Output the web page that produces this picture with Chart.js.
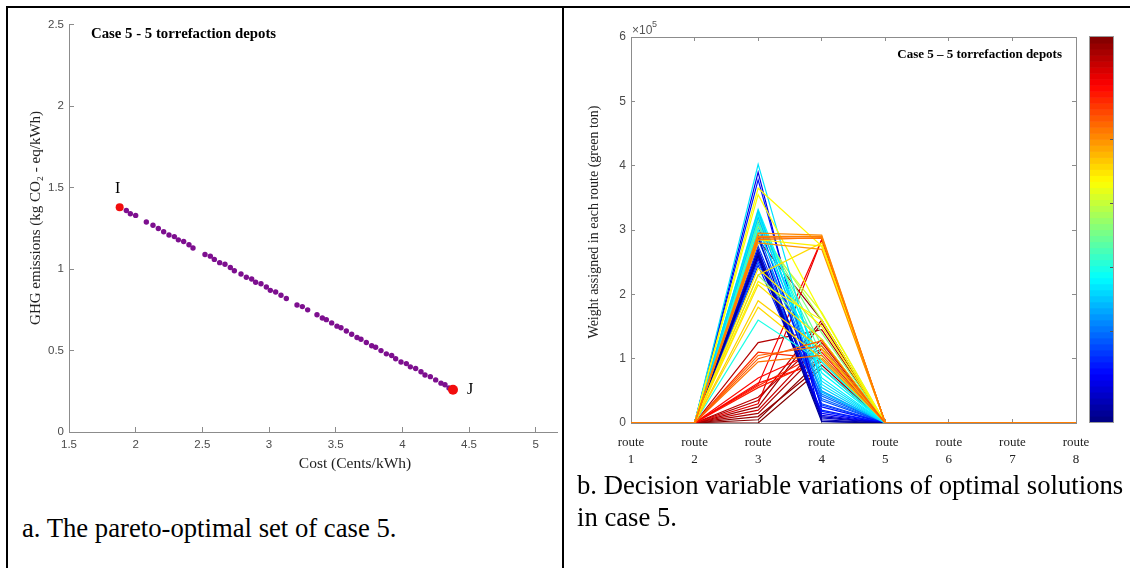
<!DOCTYPE html>
<html>
<head>
<meta charset="utf-8">
<script src="https://cdn.jsdelivr.net/npm/chart.js@4.4.1/dist/chart.umd.min.js"></script>
<style>
  html, body { margin: 0; padding: 0; background: #fff; }
  #page { position: relative; width: 1130px; height: 568px; overflow: hidden; background: #fff; }
  .rule { position: absolute; background: #000; }
  canvas { position: absolute; }
  .caption {
    position: absolute;
    font-family: 'Liberation Serif', 'Times New Roman', serif;
    font-size: 26.7px;
    line-height: 32px;
    color: #000;
    white-space: nowrap;
  }
</style>
</head>
<body>
<div id="page">
  <div class="rule" style="left:6px;top:6px;width:1124px;height:2px"></div>
  <div class="rule" style="left:6px;top:6px;width:2px;height:562px"></div>
  <div class="rule" style="left:562px;top:6px;width:2px;height:562px"></div>
  <canvas id="pareto" width="554" height="480" style="left:8px;top:8px"></canvas>
  <canvas id="routes" width="566" height="480" style="left:564px;top:8px"></canvas>
  <div class="caption" style="left:22px;top:512px">a. The pareto-optimal set of case 5.</div>
  <div class="caption" style="left:577px;top:469px">b. Decision variable variations of optimal solutions<br>in case 5.</div>
</div>
<script>
// ---- pareto set (left panel) ----
const costValues = [1.93, 1.96, 2.00, 2.08, 2.13, 2.17, 2.21, 2.25, 2.29, 2.32, 2.36, 2.40, 2.43, 2.52, 2.56,
  2.59, 2.63, 2.67, 2.71, 2.74, 2.79, 2.83, 2.87, 2.90, 2.94, 2.98, 3.01, 3.05, 3.09, 3.13, 3.21, 3.25, 3.29,
  3.36, 3.40, 3.43, 3.47, 3.51, 3.54, 3.58, 3.62, 3.66, 3.69, 3.73, 3.77, 3.80, 3.84, 3.88, 3.92, 3.95, 3.99,
  4.03, 4.06, 4.10, 4.14, 4.17, 4.21, 4.25, 4.29, 4.32, 4.35];
const ghgValues = [1.36, 1.34, 1.33, 1.29, 1.27, 1.25, 1.23, 1.21, 1.20, 1.18, 1.17, 1.15, 1.13, 1.09, 1.08,
  1.06, 1.04, 1.03, 1.01, 0.99, 0.97, 0.95, 0.94, 0.92, 0.91, 0.89, 0.87, 0.86, 0.84, 0.82, 0.78, 0.77, 0.75,
  0.72, 0.70, 0.69, 0.67, 0.65, 0.64, 0.62, 0.60, 0.58, 0.57, 0.55, 0.53, 0.52, 0.50, 0.48, 0.47, 0.45, 0.43,
  0.42, 0.40, 0.39, 0.37, 0.35, 0.34, 0.32, 0.30, 0.29, 0.27];
const extremeCost = [1.88, 4.38];
const extremeGhg = [1.38, 0.26];
const extremeNames = ['I', 'J'];
const costTicks = [1.5, 2, 2.5, 3, 3.5, 4, 4.5, 5];
const ghgTicks = [0, 0.5, 1, 1.5, 2, 2.5];

// ---- route weights (right panel) ----
const routeLabels = [['route', '1'], ['route', '2'], ['route', '3'], ['route', '4'],
  ['route', '5'], ['route', '6'], ['route', '7'], ['route', '8']];
// groups: orange/yellow, cyan/green, blue, red, dark red
const route3Weight = [290000, 285000, 295000, 288000, 280000, 105000, 100000, 95000, 365000, 355000, 240000,
  230000, 215000, 190000, 285000, 180000, 220000,
  402000, 330000, 325000, 332000, 320000, 310000, 160000, 328000, 300000,
  320000, 310000, 305000, 295000, 230000, 315000,
  260000, 265000, 270000, 255000, 262000, 290000, 390000, 378000, 313000, 275000, 258000, 250000, 305000,
  285000, 245000, 268000, 295000,
  60000, 55000, 62000, 58000, 30000, 70000, 110000,
  35000, 25000, 15000, 10000, 5000, 0, 40000, 125000, 285000, 20000];
const route4Weight = [290000, 288000, 292000, 287000, 270000, 120000, 128000, 105000, 275000, 170000, 150000,
  280000, 130000, 115000, 275000, 100000, 160000,
  60000, 55000, 70000, 85000, 48000, 95000, 95000, 65000, 78000,
  105000, 140000, 160000, 172000, 130000, 120000,
  2000, 5000, 8000, 12000, 15000, 10000, 3000, 20000, 25000, 30000, 35000, 42000, 45000,
  50000, 18000, 28000, 38000,
  285000, 100000, 95000, 110000, 285000, 115000, 100000,
  160000, 155000, 115000, 90000, 100000, 85000, 130000, 145000, 160000, 125000];
const solutionLevel = [0.75, 0.76, 0.74, 0.77, 0.73, 0.78, 0.79, 0.76, 0.63, 0.62, 0.64,
  0.66, 0.65, 0.67, 0.64, 0.66, 0.63,
  0.35, 0.33, 0.36, 0.38, 0.31, 0.40, 0.40, 0.34, 0.37,
  0.45, 0.50, 0.55, 0.58, 0.52, 0.48,
  0.02, 0.05, 0.08, 0.10, 0.12, 0.06, 0.10, 0.15, 0.14, 0.18, 0.20, 0.22, 0.25,
  0.27, 0.16, 0.19, 0.23,
  0.88, 0.85, 0.86, 0.84, 0.90, 0.87, 0.83,
  0.95, 0.97, 0.96, 0.98, 0.99, 1.00, 0.94, 0.95, 0.98, 0.93];
const colorbarTicks = [0.236, 0.403, 0.569, 0.736];

const axisGray = '#8c8c8c';
const serif = '"Liberation Serif", "Times New Roman", serif';
const sans = '"Liberation Sans", Arial, sans-serif';

const jet = (t) => {
  const c = (v) => Math.round(255 * Math.min(1, Math.max(0, v)));
  return `rgb(${c(1.5 - Math.abs(4 * t - 3))},${c(1.5 - Math.abs(4 * t - 2))},${c(1.5 - Math.abs(4 * t - 1))})`;
};

const inwardAxis = (tickLength) => ({
  display: true,
  drawOnChartArea: false,
  drawTicks: true,
  tickLength: tickLength,
  color: axisGray,
  lineWidth: 1,
});

// texts of the left panel
const paretoText = {
  id: 'paretoText',
  afterDraw(chart) {
    const { ctx, chartArea, scales } = chart;
    ctx.save();
    ctx.fillStyle = '#000';
    ctx.textBaseline = 'middle';
    ctx.font = `bold 14.8px ${serif}`;
    ctx.fillText('Case 5 - 5 torrefaction depots', chartArea.left + 22, chartArea.top + 9);

    ctx.font = `16px ${serif}`;
    ctx.textAlign = 'center';
    ctx.fillText(extremeNames[0], scales.x.getPixelForValue(extremeCost[0]) - 2,
      scales.y.getPixelForValue(extremeGhg[0]) - 18);
    ctx.textAlign = 'left';
    ctx.fillText(extremeNames[1], scales.x.getPixelForValue(extremeCost[1]) + 14,
      scales.y.getPixelForValue(extremeGhg[1]));

    ctx.fillStyle = '#222';
    ctx.font = `15.5px ${serif}`;
    ctx.textAlign = 'center';
    ctx.fillText('Cost (Cents/kWh)', chartArea.left + 286, chartArea.bottom + 32);
    ctx.translate(28, chartArea.top + 193);
    ctx.rotate(-Math.PI / 2);
    ctx.font = `15px ${serif}`;
    ctx.fillText('GHG emissions (kg CO\u2082 - eq/kWh)', 0, 0);
    ctx.restore();
  },
};

new Chart(document.getElementById('pareto'), {
  type: 'scatter',
  data: {
    datasets: [
      {
        label: 'Extremes',
        data: extremeCost.map((c, i) => ({ x: c, y: extremeGhg[i] })),
        backgroundColor: '#f20d0d',
        borderWidth: 0,
        pointRadius: [4, 5],
      },
      {
        label: 'Pareto set',
        data: costValues.map((c, i) => ({ x: c, y: ghgValues[i] })),
        backgroundColor: '#7d0f8f',
        borderWidth: 0,
        pointRadius: 2.7,
      },
    ],
  },
  options: {
    responsive: false,
    animation: false,
    devicePixelRatio: 1,
    layout: { padding: { top: 15, right: 0, left: 0, bottom: 0 } },
    plugins: { legend: { display: false }, tooltip: { enabled: false } },
    scales: {
      x: {
        type: 'linear',
        min: 1.5,
        max: 5.16,
        afterBuildTicks: (s) => { s.ticks = costTicks.map((v) => ({ value: v })); },
        afterFit: (s) => { s.height = 56; },
        grid: inwardAxis(-5),
        border: { display: true, color: axisGray, width: 1 },
        ticks: { padding: 11, color: '#4a4a4a', font: { family: sans, size: 11.5 }, callback: (v) => String(v) },
      },
      y: {
        type: 'linear',
        min: 0,
        max: 2.5,
        afterBuildTicks: (s) => { s.ticks = ghgTicks.map((v) => ({ value: v })); },
        afterFit: (s) => { s.width = 61; },
        grid: inwardAxis(-5),
        border: { display: true, color: axisGray, width: 1 },
        ticks: { padding: 10, color: '#4a4a4a', font: { family: sans, size: 11.5 }, callback: (v) => String(v) },
      },
    },
  },
  plugins: [paretoText],
});

// colorbar and texts of the right panel
const routeDecor = {
  id: 'routeDecor',
  afterDraw(chart) {
    const { ctx, chartArea } = chart;
    ctx.save();
    const left = chartArea.right + 14;
    const width = 23;
    const top = chartArea.top;
    const bottom = chartArea.bottom - 1;
    const bands = 64;
    const h = (bottom - top) / bands;
    for (let i = 0; i < bands; i++) {
      ctx.fillStyle = jet((i + 0.5) / bands);
      ctx.fillRect(left, bottom - (i + 1) * h, width, h + 0.6);
    }
    ctx.strokeStyle = '#9a9a9a';
    ctx.lineWidth = 1;
    ctx.strokeRect(left - 0.5, top - 0.5, width + 1, bottom - top + 1);
    ctx.strokeStyle = '#555';
    colorbarTicks.forEach((t) => {
      const y = Math.round(bottom - t * (bottom - top)) + 0.5;
      ctx.beginPath();
      ctx.moveTo(left + width, y);
      ctx.lineTo(left + width - 3, y);
      ctx.stroke();
    });

    ctx.fillStyle = '#555';
    ctx.textBaseline = 'middle';
    ctx.font = `12px ${sans}`;
    ctx.fillText('\u00d710', chartArea.left + 1, chartArea.top - 6);
    ctx.font = `9px ${sans}`;
    ctx.fillText('5', chartArea.left + 21, chartArea.top - 12);

    ctx.fillStyle = '#000';
    ctx.font = `bold 13px ${serif}`;
    ctx.textAlign = 'right';
    ctx.fillText('Case 5 \u2013 5 torrefaction depots', chartArea.right - 14, chartArea.top + 18);

    ctx.fillStyle = '#222';
    ctx.font = `14px ${serif}`;
    ctx.textAlign = 'center';
    ctx.translate(30, chartArea.top + 185);
    ctx.rotate(-Math.PI / 2);
    ctx.fillText('Weight assigned in each route (green ton)', 0, 0);
    ctx.restore();
  },
};

new Chart(document.getElementById('routes'), {
  type: 'line',
  data: {
    labels: routeLabels,
    datasets: route3Weight.map((w3, i) => ({
      label: 'solution ' + (i + 1),
      data: [0, 0, w3, route4Weight[i], 0, 0, 0, 0],
      borderColor: jet(solutionLevel[i]),
      borderWidth: 1.2,
      pointRadius: 0,
      tension: 0,
      fill: false,
    })),
  },
  options: {
    responsive: false,
    animation: false,
    devicePixelRatio: 1,
    layout: { padding: { top: 29, right: 54, left: 0, bottom: 0 } },
    plugins: { legend: { display: false }, tooltip: { enabled: false } },
    scales: {
      x: {
        type: 'category',
        position: 'bottom',
        offset: false,
        afterFit: (s) => { s.height = 65; },
        grid: inwardAxis(-4),
        border: { display: true, color: axisGray, width: 1 },
        ticks: { padding: 15, color: '#222', maxRotation: 0, autoSkip: false,
          font: { family: serif, size: 13, lineHeight: 1.3 } },
      },
      x2: {
        type: 'category',
        position: 'top',
        offset: false,
        afterFit: (s) => { s.height = 0; },
        grid: inwardAxis(-4),
        border: { display: true, color: axisGray, width: 1 },
        ticks: { display: false },
      },
      y: {
        type: 'linear',
        min: 0,
        max: 600000,
        afterFit: (s) => { s.width = 67; },
        grid: inwardAxis(-4),
        border: { display: true, color: axisGray, width: 1 },
        ticks: { stepSize: 100000, padding: 9, color: '#4a4a4a', font: { family: sans, size: 12 },
          callback: (v) => String(v / 100000) },
      },
      y2: {
        type: 'linear',
        position: 'right',
        min: 0,
        max: 600000,
        afterFit: (s) => { s.width = 0; },
        grid: inwardAxis(-4),
        border: { display: true, color: axisGray, width: 1 },
        ticks: { display: false, stepSize: 100000 },
      },
    },
  },
  plugins: [routeDecor],
});
</script>
</body>
</html>
